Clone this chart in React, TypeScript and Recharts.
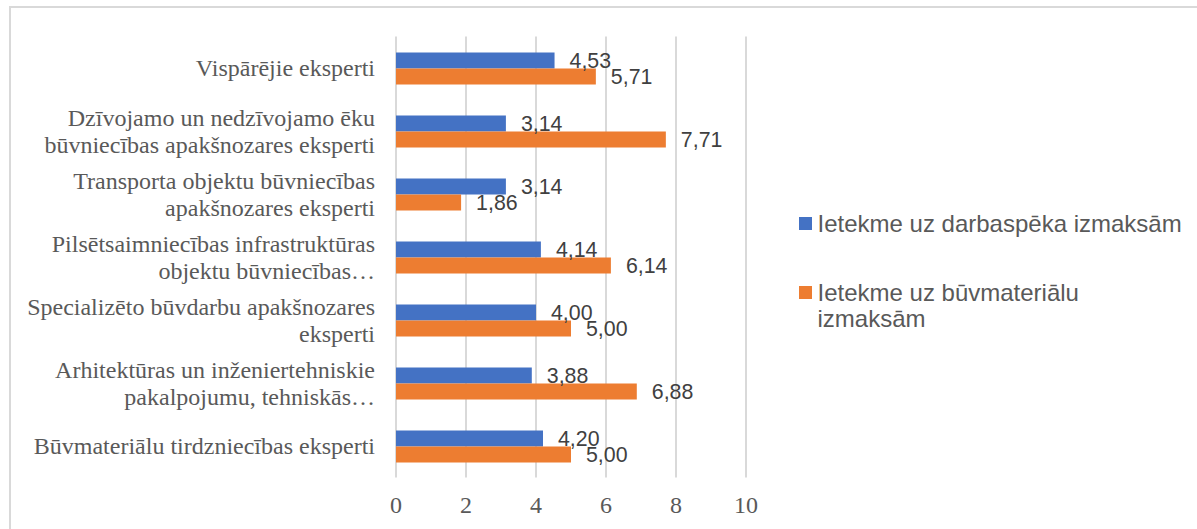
import React from 'react';
import { BarChart, Bar, XAxis, YAxis, CartesianGrid, LabelList } from 'recharts';

const categories = [
  'Vispārējie eksperti',
  'Dzīvojamo un nedzīvojamo ēku\nbūvniecības apakšnozares eksperti',
  'Transporta objektu būvniecības\napakšnozares eksperti',
  'Pilsētsaimniecības infrastruktūras\nobjektu būvniecības…',
  'Specializēto būvdarbu apakšnozares\neksperti',
  'Arhitektūras un inženiertehniskie\npakalpojumu, tehniskās…',
  'Būvmateriālu tirdzniecības eksperti',
];

const laborCost = [4.53, 3.14, 3.14, 4.14, 4.0, 3.88, 4.2];
const materialCost = [5.71, 7.71, 1.86, 6.14, 5.0, 6.88, 5.0];

const xTicks = [0, 2, 4, 6, 8, 10];

const seriesNames = ['Ietekme uz darbaspēka izmaksām', 'Ietekme uz būvmateriālu\nizmaksām'];
const seriesColors = ['#4472C4', '#ED7D31'];

const data = categories.map((name, i) => ({
  name,
  labor: laborCost[i],
  material: materialCost[i],
}));

const SERIF = '"Liberation Serif", "Times New Roman", serif';
const SANS = '"Liberation Sans", Arial, sans-serif';
const FS_LABEL = 21.33;
const FS = 24;

const fmt = (v: any) => Number(v).toFixed(2).replace('.', ',');

const CategoryTick = (props: any) => {
  const { x, y, payload } = props;
  const lines = String(payload.value).split('\n');
  const lh = 26.7;
  return (
    <text x={x} y={y} textAnchor="end" fill="#595959" fontFamily={SERIF} fontSize={FS}>
      {lines.map((ln, i) => (
        <tspan key={i} x={x} dy={i === 0 ? -((lines.length - 1) * lh) / 2 + 8.3 : lh}>
          {ln}
        </tspan>
      ))}
    </text>
  );
};

const LegendBox = () => (
  <div
    style={{
      position: 'absolute',
      left: 799,
      top: 211,
      fontFamily: SANS,
      fontSize: FS,
      color: '#595959',
      lineHeight: '26px',
    }}
  >
    {seriesNames.map((n, i) => (
      <div key={i} style={{ display: 'flex', alignItems: 'flex-start', marginBottom: i === 0 ? 43 : 0 }}>
        <span
          style={{
            display: 'inline-block',
            width: 12.5,
            height: 12.5,
            background: seriesColors[i],
            marginTop: 6,
            marginRight: 6,
            flexShrink: 0,
          }}
        />
        <span style={{ whiteSpace: 'pre' }}>{n}</span>
      </div>
    ))}
  </div>
);

export default function App() {
  return (
    <div style={{ position: 'fixed', left: 0, top: 0, width: 1197, height: 529, overflow: 'hidden', background: '#fff' }}>
      <div
        style={{
          position: 'absolute',
          left: 9,
          top: 6,
          width: 1400,
          height: 700,
          border: '2px solid #d9d9d9',
        }}
      />
      <div style={{ position: 'absolute', left: 0, top: 0 }}>
        <BarChart
          width={1197}
          height={529}
          data={data}
          layout="vertical"
          margin={{ top: 36.5, right: 451, bottom: 0, left: 0 }}
          barGap={0}
          barSize={16}
        >
          <CartesianGrid horizontal={false} stroke="#d9d9d9" strokeWidth={2} />
          <XAxis
            type="number"
            domain={[0, 10]}
            ticks={xTicks}
            axisLine={false}
            tickLine={false}
            tickSize={0}
            tickMargin={18.5}
            height={51.5}
            tick={{ fill: '#595959', fontFamily: SERIF, fontSize: FS }}
          />
          <YAxis
            type="category"
            dataKey="name"
            width={396}
            axisLine={false}
            tickLine={false}
            tickSize={0}
            tickMargin={21}
            interval={0}
            tick={<CategoryTick />}
          />
          <Bar dataKey="labor" name={seriesNames[0]} fill={seriesColors[0]} isAnimationActive={false}>
            <LabelList
              dataKey="labor"
              position="right"
              offset={15}
              formatter={fmt}
              style={{ fill: '#404040', fontFamily: SANS, fontSize: FS_LABEL }}
            />
          </Bar>
          <Bar dataKey="material" name={seriesNames[1]} fill={seriesColors[1]} isAnimationActive={false}>
            <LabelList
              dataKey="material"
              position="right"
              offset={15}
              formatter={fmt}
              style={{ fill: '#404040', fontFamily: SANS, fontSize: FS_LABEL }}
            />
          </Bar>
        </BarChart>
      </div>
      <LegendBox />
    </div>
  );
}
